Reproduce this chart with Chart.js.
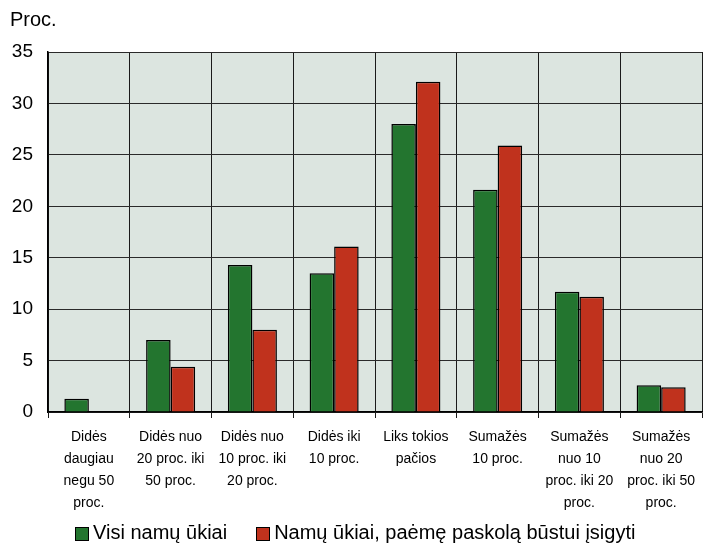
<!DOCTYPE html>
<html>
<head>
<meta charset="utf-8">
<script src="https://cdn.jsdelivr.net/npm/chart.js@4.4.0/dist/chart.umd.min.js"></script>
<style>
  html, body { margin: 0; padding: 0; background: #fff; }
  #wrap { position: relative; width: 703px; height: 545px; }
  #legend { position: absolute; left: 75px; top: 521px; display: flex; align-items: center;
            font-family: "Liberation Sans", Arial, sans-serif; font-size: 20px; color: #000; white-space: nowrap; }
  #legend .item { display: flex; align-items: center; margin-right: 29px; }
  #legend .box { width: 12px; height: 12px; border: 1px solid #000; margin-right: 4px; margin-top: 3px; }
</style>
</head>
<body>
<div id="wrap"><canvas id="chart"></canvas><div id="legend"></div></div>
<script>
// categories (multi-line labels as in the original)
var categories = [
  ['Didės', 'daugiau', 'negu 50', 'proc.'],
  ['Didės nuo', '20 proc. iki', '50 proc.'],
  ['Didės nuo', '10 proc. iki', '20 proc.'],
  ['Didės iki', '10 proc.'],
  ['Liks tokios', 'pačios'],
  ['Sumažės', '10 proc.'],
  ['Sumažės', 'nuo 10', 'proc. iki 20', 'proc.'],
  ['Sumažės', 'nuo 20', 'proc. iki 50', 'proc.']
];
var visiUkiai = [1.3, 7.0, 14.3, 13.5, 28.0, 21.6, 11.7, 2.6];
var suPaskola = [0, 4.4, 8.0, 16.1, 32.1, 25.9, 11.2, 2.4];
var seriesNames = ['Visi namų ūkiai', 'Namų ūkiai, paėmę paskolą būstui įsigyti'];
var seriesColors = ['#23752f', '#c0321d'];
var yTicks = [0, 5, 10, 15, 20, 25, 30, 35];

var fontName = '"Liberation Sans", Arial, sans-serif';

// paint the grey-green plot background
var plotBg = {
  id: 'plotBg',
  beforeDraw: function(chart) {
    var a = chart.chartArea;
    var ctx = chart.ctx;
    ctx.save();
    ctx.fillStyle = '#dce5e0';
    ctx.fillRect(a.left, a.top, a.right - a.left, a.bottom - a.top);
    ctx.restore();
  }
};

var ctx = document.getElementById('chart').getContext('2d');
var mychart = new Chart(ctx, {
  type: 'bar',
  data: {
    labels: categories,
    datasets: [{
      label: seriesNames[0],
      data: visiUkiai,
      backgroundColor: seriesColors[0],
      borderColor: '#000',
      borderWidth: 1.5,
      categoryPercentage: 0.6,
      barPercentage: 1.0
    }, {
      label: seriesNames[1],
      data: suPaskola,
      backgroundColor: seriesColors[1],
      borderColor: '#000',
      borderWidth: 1.5,
      categoryPercentage: 0.6,
      barPercentage: 1.0
    }]
  },
  options: {
    responsive: true,
    maintainAspectRatio: false,
    animation: false,
    layout: { padding: { left: 10, right: 0, top: 2, bottom: 0 } },
    plugins: {
      title: {
        display: true,
        text: 'Proc.',
        align: 'start',
        color: '#000',
        font: { family: fontName, size: 20, weight: 'normal' },
        padding: { top: 6, bottom: 20 }
      },
      legend: { display: false },
      tooltip: { enabled: false }
    },
    scales: {
      x: {
        afterFit: function(axis) { axis.height = 133; },
        grid: {
          color: '#1a1a1a',
          lineWidth: 1,
          offset: true,
          tickLength: 6
        },
        border: { color: '#000', width: 1.5 },
        ticks: {
          color: '#000',
          font: { family: fontName, size: 14, lineHeight: 1.57 },
          maxRotation: 0,
          autoSkip: false,
          padding: 8
        }
      },
      y: {
        min: 0,
        max: 35,
        afterBuildTicks: function(axis) {
          axis.ticks = yTicks.map(function(v) { return { value: v }; });
        },
        afterFit: function(axis) { axis.width = 38; },
        grid: {
          color: '#2a2a2a',
          lineWidth: 1,
          drawTicks: false
        },
        border: { color: '#000', width: 1.5 },
        ticks: {
          color: '#000',
          font: { family: fontName, size: 19 },
          padding: 15
        }
      }
    }
  },
  plugins: [plotBg]
});
mychart.update();

// legend built from the same series names and colours
var leg = document.getElementById('legend');
seriesNames.forEach(function(name, i) {
  var item = document.createElement('div');
  item.className = 'item';
  var box = document.createElement('div');
  box.className = 'box';
  box.style.background = seriesColors[i];
  var txt = document.createElement('span');
  txt.textContent = name;
  item.appendChild(box);
  item.appendChild(txt);
  leg.appendChild(item);
});
</script>
</body>
</html>
